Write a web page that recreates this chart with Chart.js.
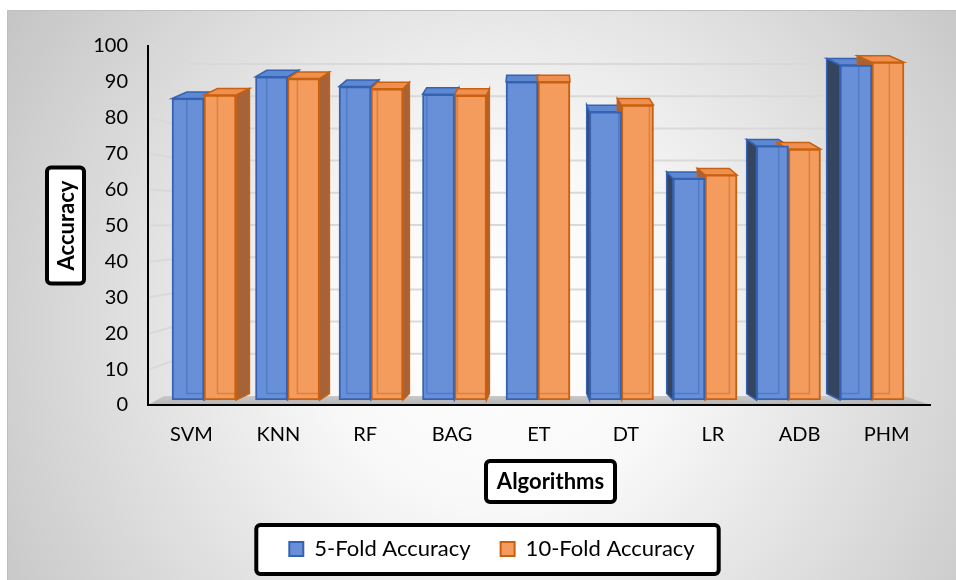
<!DOCTYPE html>
<html>
<head>
<meta charset="utf-8">
<script src="https://cdn.jsdelivr.net/npm/chart.js@4.4.1/dist/chart.umd.min.js"></script>
<style>
  html, body { margin: 0; padding: 0; background: #ffffff; }
  #wrap { width: 956px; height: 580px; }
</style>
</head>
<body>
<div id="wrap"><canvas id="c" width="956" height="580"></canvas></div>
<script>
// Accuracy (%) of each algorithm under 5-fold and 10-fold cross-validation
const categories = ['SVM', 'KNN', 'RF', 'BAG', 'ET', 'DT', 'LR', 'ADB', 'PHM'];
const fold5Accuracy = [86.4, 92.6, 89.8, 87.6, 91.2, 82.6, 63.5, 72.8, 96.0];
const fold10Accuracy = [87.4, 92.1, 89.2, 87.3, 91.2, 84.5, 64.5, 71.9, 96.8];
const seriesNames = ['5-Fold Accuracy', '10-Fold Accuracy'];
const yMin = 0, yMax = 100, yStep = 10;

Chart.defaults.font.family = 'Lato, "Open Sans", sans-serif';
Chart.defaults.color = '#000000';

// Rounded white label box with a heavy black frame
function frameBox(ctx, x, y, w, h) {
  ctx.beginPath();
  ctx.roundRect(x, y, w, h, 4);
  ctx.fillStyle = '#ffffff';
  ctx.fill();
  ctx.lineWidth = 4;
  ctx.strokeStyle = '#000000';
  ctx.stroke();
}

// Panel background, axis-title boxes and the legend frame
const panelPlugin = {
  id: 'panel',
  beforeDraw(chart) {
    const { ctx, width, height, chartArea: a } = chart;
    ctx.save();
    ctx.fillStyle = '#ffffff';
    ctx.fillRect(0, 0, width, height);
    const g = ctx.createRadialGradient(500, 330, 0, 500, 330, 600);
    g.addColorStop(0, '#ffffff');
    g.addColorStop(0.3, '#f8f8f8');
    g.addColorStop(1, '#c3c3c3');
    ctx.fillStyle = g;
    ctx.fillRect(7, 10, width - 7, height - 10);
    ctx.strokeStyle = '#c0c0c0';
    ctx.lineWidth = 1;
    ctx.strokeRect(7.5, 10.5, width, height);

    // y-axis title
    const ayc = (a.top + a.bottom) / 2;
    frameBox(ctx, 47, ayc - 58, 37, 116);
    ctx.fillStyle = '#000000';
    ctx.font = 'bold 22px Lato, sans-serif';
    ctx.textAlign = 'center';
    ctx.textBaseline = 'middle';
    ctx.save();
    ctx.translate(66, ayc);
    ctx.rotate(-Math.PI / 2);
    ctx.fillText('Accuracy', 0, 1);
    ctx.restore();

    // x-axis title
    frameBox(ctx, 486, 461, 129, 41);
    ctx.fillStyle = '#000000';
    ctx.fillText('Algorithms', 550.5, 482);

    // legend frame
    const hb = chart.legend && chart.legend.legendHitBoxes;
    if (hb && hb.length) {
      const first = hb[0], last = hb[hb.length - 1];
      const cy = first.top + first.height / 2;
      const left = first.left - 33;
      const right = last.left + last.width + 24;
      frameBox(ctx, left, cy - 24, right - left, 49);
    }
    ctx.restore();
  }
};

// Floor strip and perspective gridlines on the side and back walls
const wallPlugin = {
  id: 'walls',
  beforeDatasetsDraw(chart) {
    const { ctx, chartArea: a, scales } = chart;
    const y = scales.y;
    const backL = a.left + 44, backR = a.right - 25;
    const backTop = a.top + 18, backBottom = a.bottom - 19;
    ctx.save();
    const fg = ctx.createLinearGradient(0, a.bottom - 9, 0, a.bottom);
    fg.addColorStop(0, '#c9c9c9');
    fg.addColorStop(1, '#b3b3b3');
    ctx.fillStyle = fg;
    ctx.beginPath();
    ctx.moveTo(a.left + 2, a.bottom - 1);
    ctx.lineTo(a.left + 16, a.bottom - 9);
    ctx.lineTo(a.right - 26, a.bottom - 9);
    ctx.lineTo(a.right - 2, a.bottom - 1);
    ctx.closePath();
    ctx.fill();

    ctx.strokeStyle = '#d9d9d9';
    ctx.lineWidth = 2;
    y.ticks.forEach(t => {
      if (t.value === yMin) return;
      const f = (t.value - y.min) / (y.max - y.min);
      const yf = y.getPixelForValue(t.value);
      const yb = backBottom - f * (backBottom - backTop);
      ctx.beginPath();
      ctx.moveTo(a.left + 2, yf);
      ctx.lineTo(backL, yb);
      ctx.lineTo(backR, yb);
      ctx.stroke();
    });
    ctx.restore();
  }
};

// Depth faces for each bar: top and side faces receding toward the centre
const DEPTH_UP = 6.5, DEPTH_SKEW = 0.042;
function barGeometry(chart, bar) {
  const a = chart.chartArea;
  const p = bar.getProps(['x', 'y', 'base', 'width'], true);
  const mid = (a.left + a.right) / 2;
  return {
    L: p.x - p.width / 2, R: p.x + p.width / 2, top: p.y, base: p.base,
    dx: (mid - p.x) * DEPTH_SKEW, dy: -DEPTH_UP
  };
}
const depthPlugin = {
  id: 'depth',
  beforeDatasetsDraw(chart) {
    const { ctx } = chart;
    ctx.save();
    chart.data.datasets.forEach((ds, di) => {
      const meta = chart.getDatasetMeta(di);
      meta.data.forEach(bar => {
        const { L, R, top, base, dx, dy } = barGeometry(chart, bar);
        const sx = dx >= 0 ? R : L;
        // side face
        ctx.beginPath();
        ctx.moveTo(sx, top);
        ctx.lineTo(sx + dx, top + dy);
        ctx.lineTo(sx + dx, base + dy);
        ctx.lineTo(sx, base);
        ctx.closePath();
        ctx.fillStyle = ds.sideColor;
        ctx.fill();
        ctx.lineWidth = 1.5;
        ctx.strokeStyle = ds.borderColor;
        ctx.stroke();
        // top face
        ctx.beginPath();
        ctx.moveTo(L, top);
        ctx.lineTo(R, top);
        ctx.lineTo(R + dx, top + dy);
        ctx.lineTo(L + dx, top + dy);
        ctx.closePath();
        ctx.fillStyle = ds.topColor;
        ctx.fill();
        ctx.stroke();
      });
    });
    ctx.restore();
  },
  afterDatasetsDraw(chart) {
    // hidden back edges, faintly visible through the faces
    const { ctx } = chart;
    ctx.save();
    chart.data.datasets.forEach((ds, di) => {
      const meta = chart.getDatasetMeta(di);
      meta.data.forEach(bar => {
        const { L, R, top, base, dx, dy } = barGeometry(chart, bar);
        ctx.save();
        ctx.beginPath();
        ctx.rect(L, top, R - L, base - top);
        ctx.clip();
        ctx.globalAlpha = 0.45;
        ctx.strokeStyle = ds.borderColor;
        ctx.lineWidth = 1.5;
        ctx.strokeRect(L + dx, top + dy, R - L, base - top);
        ctx.restore();
      });
    });
    ctx.restore();
  }
};

const LEGEND_GAP = 30;
const LEGEND_FONT = 22;

new Chart(document.getElementById('c'), {
  type: 'bar',
  data: {
    labels: categories,
    datasets: [
      {
        label: seriesNames[0],
        data: fold5Accuracy.map((v, i) => ({ x: i, y: v })),
        backgroundColor: '#6790d8',
        borderColor: '#3562b2',
        topColor: '#5e88d2',
        sideColor: '#35445f',
        borderWidth: 2,
        borderSkipped: false,
        barThickness: 32,
        xAxisID: 'xb',
        yAxisID: 'yb'
      },
      {
        label: seriesNames[1],
        data: fold10Accuracy.map((v, i) => ({ x: i, y: v })),
        backgroundColor: '#f39c5e',
        borderColor: '#c9600f',
        topColor: '#ef9050',
        sideColor: '#a6633a',
        borderWidth: 2,
        borderSkipped: false,
        barThickness: 32,
        xAxisID: 'xb',
        yAxisID: 'yb'
      }
    ]
  },
  options: {
    responsive: false,
    animation: false,
    devicePixelRatio: 1,
    layout: { padding: { left: 54, top: 46, right: 26, bottom: 10 } },
    plugins: {
      legend: {
        position: 'bottom',
        labels: {
          boxWidth: 14,
          boxHeight: 14,
          padding: LEGEND_GAP,
          color: '#000000',
          font: { size: LEGEND_FONT }
        }
      },
      tooltip: { enabled: false }
    },
    scales: {
      x: {
        type: 'category',
        position: 'bottom',
        offset: true,
        grid: { display: false, drawTicks: false },
        border: { display: true, color: '#000000', width: 2 },
        ticks: { padding: 18, color: '#000000', font: { size: 20 }, autoSkip: false, maxRotation: 0 },
        afterFit(s) { s.height = 580 - 10 - (LEGEND_FONT + 10 + LEGEND_GAP) - 405; }
      },
      xb: {
        type: 'linear',
        display: false,
        offset: false,
        grid: { offset: false },
        min: -0.671,
        max: 8.695
      },
      y: {
        type: 'linear',
        position: 'left',
        min: yMin,
        max: yMax,
        grid: { display: false, drawTicks: false },
        border: { display: true, color: '#000000', width: 2 },
        ticks: { stepSize: yStep, padding: 20, color: '#000000', font: { size: 20 } },
        afterFit(s) { s.width = 94; }
      },
      yb: {
        type: 'linear',
        display: false,
        min: -1.43,
        max: 101.44
      }
    }
  },
  plugins: [panelPlugin, wallPlugin, depthPlugin]
});
</script>
</body>
</html>
